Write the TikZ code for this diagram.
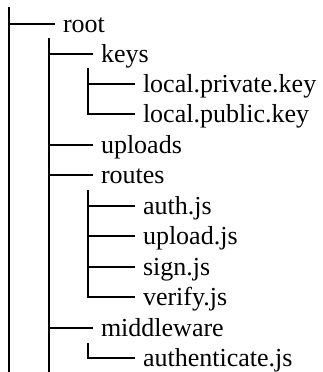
\documentclass[tikz,border=0pt]{standalone}
\usepackage{fontspec}
\setmainfont{Liberation Serif}
\begin{document}
\begin{tikzpicture}[x=1pt,y=-1pt,
  item/.style={anchor=base west,inner sep=0pt,outer xsep=8pt,font=\fontsize{26}{30}\selectfont},
  tree/.style={draw=black,line width=2pt}]
\useasboundingbox (0,0) rectangle (322,372);
\def\bo{8}
% level 1
\node[item] (root) at (55,24+\bo) {root};
% level 2
\node[item] (keys) at (93,54+\bo) {keys};
\node[item] (uploads) at (93,145+\bo) {uploads};
\node[item] (routes) at (93,175+\bo) {routes};
\node[item] (middleware) at (93,328+\bo) {middleware};
% level 3
\node[item] (priv) at (135,84+\bo) {local.private.key};
\node[item] (pub) at (135,114+\bo) {local.public.key};
\node[item] (auth) at (135,206+\bo) {auth.js};
\node[item] (upload) at (135,236+\bo) {upload.js};
\node[item] (sign) at (135,267+\bo) {sign.js};
\node[item] (verify) at (135,297+\bo) {verify.js};
\node[item] (authn) at (135,358+\bo) {authenticate.js};
% verticals
\coordinate (v1top) at (9,7);
\coordinate (v1bot) at (9,372);
\coordinate (v2top) at (49,38);
\coordinate (v2bot) at (49,372);
\coordinate (v3atop) at (88,68);
\coordinate (v3btop) at (88,190);
\coordinate (v3ctop) at (88,343);
\tikzset{lm/.style={yshift=\bo pt}}
\draw[tree] (v1top) -- (v1bot);
\draw[tree] (v2top) -- (v2bot);
\draw[tree] ([lm]root.base west) -- ([lm]root.base west -| v1top);
\foreach \n in {keys,uploads,routes,middleware}
  \draw[tree] ([lm]\n.base west -| v2top) -- ([lm]\n.base west);
\draw[tree] (v3atop) |- ([lm]pub.base west);
\draw[tree] ([lm]priv.base west -| v3atop) -- ([lm]priv.base west);
\draw[tree] (v3btop) |- ([lm]verify.base west);
\foreach \n in {auth,upload,sign}
  \draw[tree] ([lm]\n.base west -| v3btop) -- ([lm]\n.base west);
\draw[tree] (v3ctop) |- ([lm]authn.base west);
\end{tikzpicture}
\end{document}
